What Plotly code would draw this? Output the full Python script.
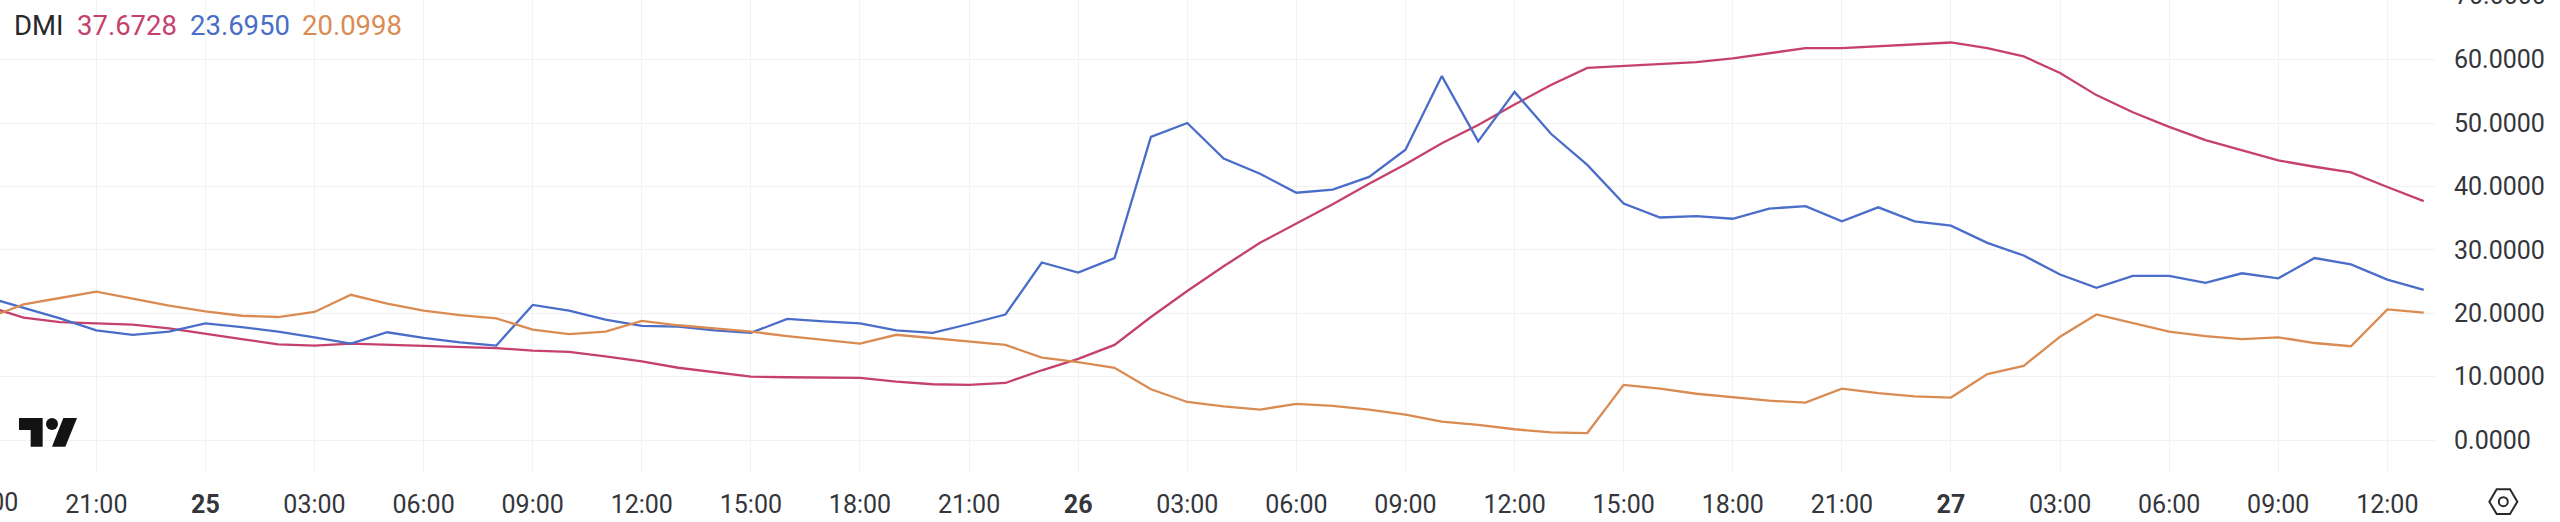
import pandas as pd
import plotly.graph_objects as go

# Hourly DMI readings
adx = [21.1,19.3,18.6,18.4,18.2,17.6,
16.7,15.9,15.1,14.9,15.2,15.0,14.8,14.6,14.5,14.1,13.9,13.2,12.4,11.4,10.7,10.0,9.9,9.8,9.8,9.2,8.8,8.7,9.0,11.0,
12.8,15.0,19.4,23.5,27.4,31.1,34.1,37.2,40.4,43.5,46.8,49.7,52.9,56.0,58.7,59.0,59.2,59.6,60.2,61.0,61.8,61.8,62.1,62.4,
62.7,61.8,60.5,57.9,54.4,51.7,49.4,47.3,45.7,44.1,43.1,42.2,39.9,37.6728]
plus_di = [22.5,20.8,19.2,17.3,16.6,17.1,
18.4,17.8,17.1,16.2,15.2,17.0,16.1,15.4,14.9,21.3,20.4,19.0,18.0,17.9,17.3,16.9,19.1,18.7,18.4,17.3,16.9,18.3,19.8,28.0,
26.4,28.7,47.8,50.0,44.4,42.0,39.0,39.5,41.5,45.8,57.4,47.1,54.9,48.3,43.4,37.3,35.1,35.3,34.9,36.5,36.9,34.5,36.7,34.5,
33.8,31.1,29.1,26.1,24.0,25.9,25.9,24.8,26.3,25.5,28.7,27.7,25.3,23.6950]
minus_di = [19.2,21.4,22.4,23.4,22.3,21.2,
20.3,19.6,19.4,20.2,22.9,21.5,20.4,19.7,19.2,17.4,16.7,17.1,18.8,18.1,17.6,17.1,16.4,15.8,15.2,16.6,16.1,15.6,15.0,13.0,
12.3,11.4,8.0,6.0,5.3,4.8,5.7,5.4,4.8,4.0,2.9,2.4,1.7,1.2,1.1,8.7,8.1,7.3,6.8,6.2,5.9,8.1,7.4,6.9,
6.7,10.4,11.7,16.3,19.8,18.4,17.1,16.4,15.9,16.2,15.3,14.8,20.6,20.0998]
start_time = "2025-01-24 18:00"
x_ticktext = ["21:00","<b>25</b>","03:00","06:00","09:00","12:00","15:00","18:00","21:00",
              "<b>26</b>","03:00","06:00","09:00","12:00","15:00","18:00","21:00",
              "<b>27</b>","03:00","06:00","09:00","12:00"]
y_ticks = [0,10,20,30,40,50,60]

W, H = 2560, 522
L, R, T, B = 0, 124, 0, 49
PW, PH = W - L - R, H - T - B
px = lambda v: v / PW
py = lambda v: (PH - v) / PH

RED, BLUE, ORANGE = "#c5416c", "#4a6dc9", "#da8b52"
GRID = "#f2f2f3"
TEXT = "#34363b"
FONT = "Roboto"

times = pd.date_range(start_time, periods=len(adx), freq="h")
x_ticks = pd.date_range("2025-01-24 21:00", periods=len(x_ticktext), freq="3h")

fig = go.Figure()
for name, vals, col in [("ADX", adx, RED), ("+DI", plus_di, BLUE), ("-DI", minus_di, ORANGE)]:
    fig.add_trace(go.Scatter(x=times, y=vals, mode="lines", name=name, line=dict(color=col, width=2.3)))

ann = [
    dict(text="DMI", x=px(11.5), y=py(26), color="#26282c"),
    dict(text="37.6728", x=px(74.5), y=py(26), color=RED),
    dict(text="23.6950", x=px(187.5), y=py(26), color=BLUE),
    dict(text="20.0998", x=px(299.5), y=py(26), color=ORANGE),
]
annotations = [dict(text=a["text"], x=a["x"], y=a["y"], xref="paper", yref="paper", xanchor="left", yanchor="middle",
                    showarrow=False, font=dict(family=FONT, size=27.5, color=a["color"])) for a in ann]
annotations.append(dict(text="70.0000", x=px(2455), y=py(-4), xref="paper", yref="paper", xanchor="left",
                        yanchor="middle", showarrow=False, xshift=-2, font=dict(family=FONT, size=25, color=TEXT)))
annotations.append(dict(text="18:00", x=px(-13), y=py(502), xref="paper", yref="paper", xanchor="center",
                        yanchor="middle", showarrow=False, font=dict(family=FONT, size=25, color=TEXT)))

def poly(points):
    return "M " + " L ".join(f"{px(a)} {py(b)}" for a, b in points) + " Z"

def z5(points, ox=0, oy=400):
    return [(ox + a / 3, oy + b / 3) for a, b in points]

shapes = [
    dict(type="path", xref="paper", yref="paper", line=dict(width=0), fillcolor="#131313",
         path=poly(z5([(57,54),(128,54),(128,140),(92,140),(92,90),(57,90)]))),
    dict(type="path", xref="paper", yref="paper", line=dict(width=0), fillcolor="#131313",
         path=poly(z5([(190,54),(231,54),(196,140),(156,140)]))),
    dict(type="circle", xref="paper", yref="paper", line=dict(width=0), fillcolor="#131313",
         x0=px(46), x1=px(58), y0=py(430), y1=py(418)),
    dict(type="path", xref="paper", yref="paper", line=dict(width=2, color="#2a2a2a"), fillcolor="rgba(0,0,0,0)",
         path=poly(z5([(388,305),(410,268),(450,268),(472,305),(450,342),(410,342)], ox=2360))),
    dict(type="circle", xref="paper", yref="paper", line=dict(width=2, color="#2a2a2a"), fillcolor="rgba(0,0,0,0)",
         x0=px(2503.3 - 4.5), x1=px(2503.3 + 4.5), y0=py(501.7 + 4.5), y1=py(501.7 - 4.5)),
]

fig.update_layout(
    width=W, height=H, autosize=False, showlegend=False,
    margin=dict(l=L, r=R, t=T, b=B, pad=0),
    paper_bgcolor="white", plot_bgcolor="white",
    font=dict(family=FONT, size=25, color=TEXT),
    annotations=annotations, shapes=shapes,
    xaxis=dict(type="date", range=["2025-01-24 18:21:07", "2025-01-27 13:20:17"],
               tickmode="array", tickvals=list(x_ticks), ticktext=x_ticktext, tickangle=0,
               showgrid=True, gridcolor=GRID, gridwidth=1, zeroline=False, showline=False,
               ticks="", ticklabelstandoff=14, tickfont=dict(family=FONT, size=25, color=TEXT)),
    yaxis=dict(side="right", range=[-5.2, 69.4], tickmode="array", tickvals=y_ticks, tickformat=".4f",
               showgrid=True, gridcolor=GRID, gridwidth=1, zeroline=False, showline=False,
               ticks="", ticklabelstandoff=17, tickfont=dict(family=FONT, size=25, color=TEXT)),
)
fig.write_html("out.html", config=dict(displayModeBar=False),
               post_script="document.body.style.margin='0';document.documentElement.style.overflow='hidden';")
